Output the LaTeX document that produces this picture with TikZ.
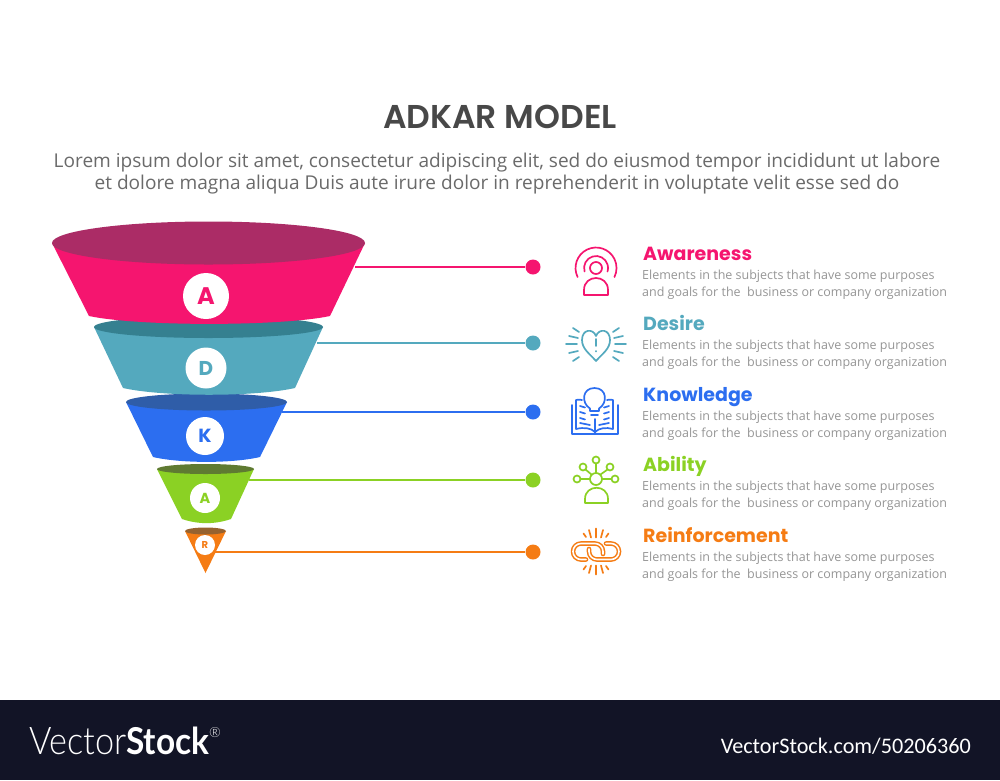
\documentclass[tikz,border=0pt]{standalone}
\usepackage{fontspec}
\setmainfont{Open Sans}
\newfontfamily\headfont{Poppins}
\newfontfamily\titlefont{Poppins SemiBold}
\newfontfamily\brandfont{Carlito}
\newfontfamily\brandlight{Lato Light}
\newfontfamily\brandbold{Lato}
\usetikzlibrary{positioning}
\definecolor{pinkc}{HTML}{F5156F}
\definecolor{pinktop}{HTML}{AB2C66}
\definecolor{tealc}{HTML}{54A9BE}
\definecolor{tealtop}{HTML}{358090}
\definecolor{bluec}{HTML}{2C6EF0}
\definecolor{bluetop}{HTML}{2F5DA8}
\definecolor{greenc}{HTML}{8BD124}
\definecolor{greentop}{HTML}{5F7A32}
\definecolor{orangec}{HTML}{F57C14}
\definecolor{orangetop}{HTML}{96622F}
\definecolor{bannerc}{HTML}{121426}
\definecolor{titlec}{HTML}{484848}
\definecolor{bodyc}{HTML}{6A6A6A}
\definecolor{descc}{HTML}{959595}
\tikzset{
  badge/.style={circle,fill=white,inner sep=0pt,minimum size=#1},
  enddot/.style={circle,fill=#1,inner sep=0pt,minimum size=15pt},
  leader/.style={line width=1.8pt},
  headtext/.style={anchor=base west,inner sep=0pt,font=\headfont\bfseries\fontsize{19}{20}\selectfont},
  desctext/.style={anchor=north west,inner sep=0pt,align=left,text=descc,font=\fontsize{12.5}{17}\selectfont},
  iconline/.style={line width=1.7pt,line cap=round,line join=round},
  chainlink/.style={line width=1.5pt,double=white,double distance=1.6pt,rounded corners=8pt},
}
\newcommand{\seltext}{Elements in the subjects that have some purposes\\and goals for the\ \ business or company organization}
\begin{document}
\begin{tikzpicture}[x=1pt,y=-1pt]
\useasboundingbox (0,0) rectangle (1000,780);
\fill[bannerc] (0,700) rectangle (1000,780);
% title
\node[inner sep=0pt,text=titlec,font=\titlefont\fontsize{33}{36}\selectfont] (title) at (500,117) {ADKAR MODEL};
\node[inner sep=0pt,text=bodyc,align=center,font=\fontsize{19.05}{22.5}\selectfont] (intro) at (497,173.5) {Lorem ipsum dolor sit amet, consectetur adipiscing elit, sed do eiusmod tempor incididunt ut labore\\et dolore magna aliqua Duis aute irure dolor in reprehenderit in voluptate velit esse sed do};
% funnel
\fill[orangec] (185,531) -- (226,531) -- (205.5,573) -- cycle;
\fill[orangetop] (205.5,531) ellipse (20.5 and 3.5);
\fill[greenc] (157,469) -- (254,469) -- (231,519) .. controls (215,524.5) and (198,524.5) .. (182,519) -- cycle;
\fill[greentop] (205.5,469) ellipse (48.5 and 5);
\fill[bluec] (126,402) -- (287,402) -- (260,457) .. controls (232,463.5) and (181,463.5) .. (153,457) -- cycle;
\fill[bluetop] (206.5,402) ellipse (80.5 and 8.5);
\fill[tealc] (94,327) -- (323,327) -- (295,388) .. controls (255,397) and (163,397) .. (123,388) -- cycle;
\fill[tealtop] (208.5,327) ellipse (114.5 and 11);
\fill[pinkc] (52,243) -- (365,243) -- (330,316) .. controls (280,326.5) and (138,326.5) .. (89,316) -- cycle;
\fill[pinktop] (208.5,243) ellipse (156.5 and 21.5);
% badges
\node[badge=46pt,text=pinkc,font=\headfont\bfseries\fontsize{24}{26}\selectfont] (a1) at (206,296) {A};
\node[badge=41pt,text=tealc,font=\headfont\bfseries\fontsize{20}{22}\selectfont] (d) at (206,368) {D};
\node[badge=38pt,text=bluec,font=\headfont\bfseries\fontsize{19}{21}\selectfont] (k) at (205,436) {K};
\node[badge=30pt,text=greenc,font=\headfont\bfseries\fontsize{14.5}{16}\selectfont] (a2) at (205,498) {A};
\node[badge=20pt,text=orangec,font=\headfont\bfseries\fontsize{10}{11}\selectfont] (r) at (205,545) {R};
% leaders
\node[enddot=pinkc] (dot1) at (533,267) {};
\node[enddot=tealc] (dot2) at (533,343) {};
\node[enddot=bluec] (dot3) at (533,412) {};
\node[enddot=greenc] (dot4) at (533,480) {};
\node[enddot=orangec] (dot5) at (533,552) {};
\coordinate (start1) at (355,267);
\coordinate (start2) at (317,343);
\coordinate (start3) at (282,412);
\coordinate (start4) at (249,480);
\coordinate (start5) at (214,552);
\draw[leader,pinkc] (start1) -- (dot1);
\draw[leader,tealc] (start2) -- (dot2);
\draw[leader,bluec] (start3) -- (dot3);
\draw[leader,greenc] (start4) -- (dot4);
\draw[leader,orangec] (start5) -- (dot5);
% labels
\node[headtext,text=pinkc] (h1) at (643,260.5) {Awareness};
\node[headtext,text=tealc] (h2) at (643,330.5) {Desire};
\node[headtext,text=bluec] (h3) at (643,401) {Knowledge};
\node[headtext,text=greenc] (h4) at (643,471.5) {Ability};
\node[headtext,text=orangec] (h5) at (643,542) {Reinforcement};
\node[desctext] (t1) at (642,269.5) {\seltext};
\node[desctext] (t2) at (642,340) {\seltext};
\node[desctext] (t3) at (642,410.5) {\seltext};
\node[desctext] (t4) at (642,481) {\seltext};
\node[desctext] (t5) at (642,551.5) {\seltext};
% awareness icon
\begin{scope}[iconline,pinkc]
  \draw (596,268) circle (6);
  \draw (584.6,271.5) arc (163:377:12);
  \draw (577.6,277) arc (154:386:20.5);
  \draw (584,295) -- (608,295) -- (608,290) .. controls (608,274) and (584,274) .. (584,290) -- cycle;
\end{scope}
% desire icon
\begin{scope}[iconline,tealc]
  \draw (596,361) .. controls (590,354) and (582,349) .. (582,340) .. controls (582,329) and (593,328) .. (596,336) .. controls (599,328) and (610,329) .. (610,340) .. controls (610,349) and (602,354) .. (596,361) -- cycle;
  \draw (596,339) -- (596,346);
  \draw (596,351) -- (596,351.5);
  \foreach \xa/\ya/\xb/\yb in {573/328/579/332,569/336/578/338,566/344/577/344,569/353/578/351,573/361/579/357}{
    \draw (\xa,\ya) -- (\xb,\yb);
    \draw (1192-\xa,\ya) -- (1192-\xb,\yb);
  }
\end{scope}
% knowledge icon
\begin{scope}[iconline,bluec]
  \draw (590,411) -- (590,408.5) .. controls (581,403) and (582,388) .. (594.5,388) .. controls (607,388) and (608,403) .. (599,408.5) -- (599,411) -- cycle;
  \draw (591,415) -- (598,415);
  \draw (572,405) -- (572,434) -- (618,434) -- (618,405);
  \draw (582,400) .. controls (580,399.5) and (578,399.5) .. (576,400) -- (576,429) .. controls (584,427) and (591,428) .. (595,432);
  \draw (607,400) .. controls (609,399.5) and (611,399.5) .. (613,400) -- (613,429) .. controls (606,427) and (599,428) .. (595,432);
  \draw (595,419) -- (595,434);
  \foreach \ya in {406,412,418}{
    \draw (580,\ya) -- (585,\ya+1.5);
    \draw (609,\ya) -- (604,\ya+1.5);
  }
  \draw (580,423) -- (590,425);
  \draw (609,423) -- (599,425);
\end{scope}
% ability icon
\begin{scope}[iconline,greenc]
  \draw (596,479) circle (6);
  \draw (585,503) -- (608,503) -- (608,499) .. controls (608,484) and (585,484) .. (585,499) -- cycle;
  \foreach \xa/\ya in {596/460,583/467,610/467,577/479,615/479}{
    \draw (\xa,\ya) circle (3.5);
  }
  \draw (596,463.5) -- (596,473);
  \draw (585.5,469.5) -- (591.5,474.5);
  \draw (607.5,469.5) -- (600.5,474.5);
  \draw (580.5,479) -- (590,479);
  \draw (611.5,479) -- (602,479);
\end{scope}
% reinforcement icon
\begin{scope}[iconline,orangec]
  \draw[chainlink] (606,543.5) -- (619,543.5) -- (619,559.5) -- (589,559.5) -- (589,549);
  \draw[chainlink] (586,559.5) -- (573,559.5) -- (573,543.5) -- (603,543.5) -- (603,554);
  \foreach \xa/\ya/\xb/\yb in {583.5/533.5/586/537,589/530/591/537.5,596/528.5/596/537.5,603/530/601/537.5,608.5/533.5/606/537}{
    \draw (\xa,\ya) -- (\xb,\yb);
    \draw (\xa,1103-\ya) -- (\xb,1103-\yb);
  }
\end{scope}
% banner
\node[inner sep=0pt,anchor=base west,text=white] (brand) at (29,754) {\resizebox{97pt}{27pt}{\brandlight Vector}\resizebox{83pt}{27.5pt}{\brandbold\bfseries Stock}\raisebox{17pt}{\brandlight\fontsize{14}{14}\selectfont ®}};
\node[inner sep=0pt,anchor=base east,text=white,font=\brandfont\fontsize{22.2}{24}\selectfont] (stockurl) at (971,753) {VectorStock.com/50206360};
\end{tikzpicture}
\end{document}
